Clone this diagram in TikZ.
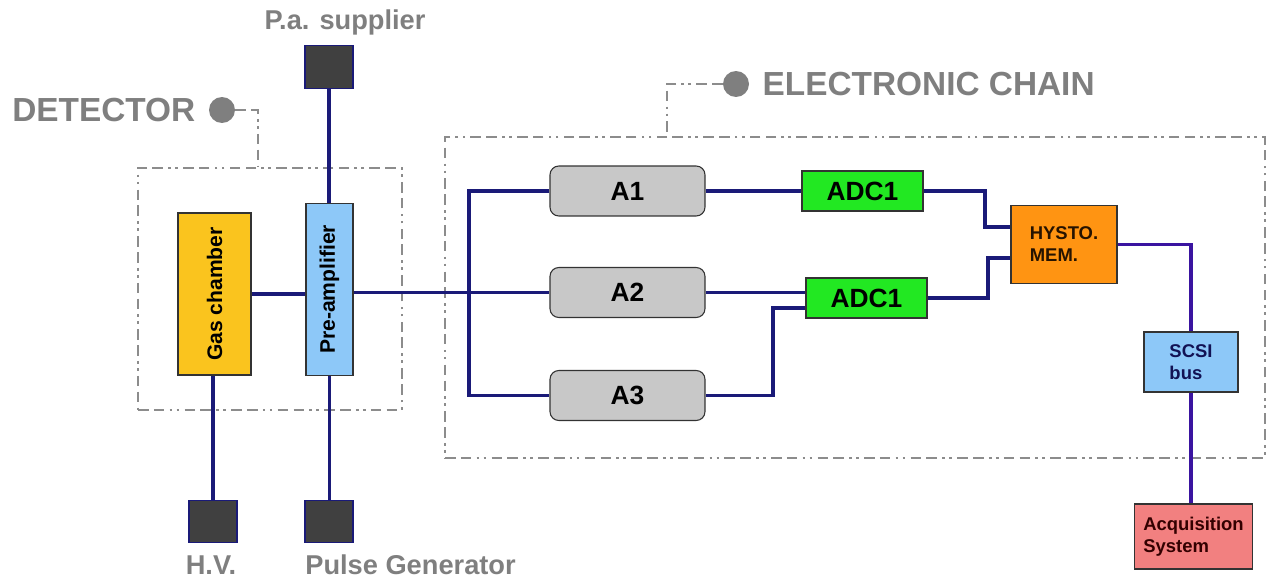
\documentclass[tikz,border=0pt]{standalone}
\usepackage{fontspec}
\setmainfont{Liberation Sans}
\usepackage{tikz}
\usepackage{xcolor}
\usetikzlibrary{positioning,calc}
\definecolor{wire}{HTML}{1A1A78}
\definecolor{buswire}{HTML}{3A14A0}
\definecolor{grouptext}{HTML}{7F7F7F}
\definecolor{groupline}{HTML}{8C8C8C}
\definecolor{gasfill}{HTML}{FAC41E}
\definecolor{prefill}{HTML}{8DC8F8}
\definecolor{ampfill}{HTML}{C8C8C8}
\definecolor{adcfill}{HTML}{22E822}
\definecolor{memfill}{HTML}{FF9412}
\definecolor{acqfill}{HTML}{F28080}
\definecolor{extfill}{HTML}{404040}

\begin{document}
\begin{tikzpicture}[x=0.02cm, y=-0.02cm,
    box/.style={draw=black!80, line width=0.6pt, inner sep=0pt, font=\bfseries},
    ampbox/.style={box, fill=ampfill, rounded corners=5pt, minimum width=3.1cm, minimum height=1cm, font=\bfseries\fontsize{15}{18}\selectfont},
    adcbox/.style={box, fill=adcfill, minimum width=2.42cm, minimum height=0.8cm, font=\bfseries\fontsize{15}{18}\selectfont},
    smallbox/.style={box, align=left, font=\bfseries\fontsize{10.5}{12.5}\selectfont},
    extbox/.style={draw=wire, fill=extfill, line width=0.8pt, minimum width=0.96cm, minimum height=0.85cm, inner sep=0pt},
    extlabel/.style={text=grouptext, inner sep=0pt, font=\bfseries\fontsize{15.5}{18}\selectfont},
    grouplabel/.style={text=grouptext, inner sep=0pt, font=\bfseries\fontsize{19}{22}\selectfont},
    groupdot/.style={circle, fill=grouptext, minimum size=0.52cm, inner sep=0pt},
    grouprule/.style={draw=groupline, line width=0.8pt, dash pattern=on 6pt off 3pt on 6pt off 3pt on 1.5pt off 2.5pt on 1.5pt off 3pt},
    groupbox/.style={grouprule, inner sep=0pt},
    signal/.style={draw=wire, line width=1.8pt},
    bus/.style={draw=buswire, line width=1.8pt}]
  \useasboundingbox (0,0) rectangle (1269,581);

  \node[groupbox, minimum width=5.28cm, minimum height=4.84cm] (det) at (270,289) {};
  \node[groupbox, minimum width=16.4cm, minimum height=6.42cm] (chain) at (855,297.5) {};

  \node[groupdot] (ddot) at (222,110) {};
  \node[grouplabel, left=0.26cm of ddot] (detlbl) {DETECTOR};
  \draw[grouprule] (ddot.east) -| (det.north -| 258,0);
  \node[groupdot] (cdot) at (736,84) {};
  \node[grouplabel, right=0.26cm of cdot] (chainlbl) {ELECTRONIC CHAIN};
  \draw[grouprule] (cdot.west) -| (chain.north -| 667,0);

  \node[box, fill=gasfill, minimum width=1.46cm, minimum height=3.24cm, font=\bfseries\fontsize{12}{14}\selectfont] (gas) at (214.5,294) {\rotatebox{90}{Gas chamber}};
  \node[box, fill=prefill, minimum width=0.94cm, minimum height=3.44cm, font=\bfseries\fontsize{12}{14}\selectfont] (pre) at (329.5,289.5) {\rotatebox{90}{Pre-amplifier}};

  \node[extbox] (sup) at (329,67) {};
  \node[extbox] (hv) at (213,521.5) {};
  \node[extbox] (pg) at (329,521.5) {};
  \node[extlabel] (suplbl) at (345,22) {P.a. supplier};
  \node[extlabel] (hvlbl) at (211,565) {H.V.};
  \node[extlabel, anchor=west] (pglbl) at (305,565) {Pulse Generator};

  \node[ampbox] (a1) at (627.5,191) {A1};
  \node[ampbox] (a2) at (627.5,292.5) {A2};
  \node[ampbox] (a3) at (627.5,395.5) {A3};
  \node[adcbox] (adc1) at (862.5,191) {ADC1};
  \node[adcbox] (adc2) at (866.5,298) {ADC1};

  \node[smallbox, fill=memfill, minimum width=2.12cm, minimum height=1.56cm, text=black!85!orange] (mem) at (1064,244.5) {HYSTO.\\MEM.};
  \node[smallbox, fill=prefill, minimum width=1.88cm, minimum height=1.2cm, text=wire!70!black] (scsi) at (1191,362) {SCSI\\bus};
  \node[smallbox, fill=acqfill, minimum width=2.36cm, minimum height=1.3cm, text=black!80!red] (acq) at (1193.5,536.5) {Acquisition\\System};

  \coordinate (split) at (469,292.5);
  \coordinate (a3bend) at (773,308);
  \coordinate (m1) at (985,227);
  \coordinate (m2) at (988,258);

  \draw[signal] (sup.south) -- (sup.south |- pre.north);
  \draw[signal] (gas.east) -- (gas.east -| pre.west);
  \draw[signal] (hv.north) -- (hv.north |- gas.south);
  \draw[signal] (pre.south) -- (pre.south |- pg.north);
  \draw[signal] (pre.east |- a2.west) -- (a2.west);
  \draw[signal] (a1.west) -| (split) |- (a3.west);
  \draw[signal] (a1.east) -- (adc1.west);
  \draw[signal] (a2.east) -- (a2.east -| adc2.west);
  \draw[signal] (a3.east) -| (a3bend) -- (a3bend -| adc2.west);
  \draw[signal] (adc1.east) -| (m1) -- (m1 -| mem.west);
  \draw[signal] (adc2.east) -| (m2) -- (m2 -| mem.west);
  \draw[bus] (mem.east) -| (scsi.north);
  \draw[bus] (scsi.south) -- (scsi.south |- acq.north);
\end{tikzpicture}
\end{document}
